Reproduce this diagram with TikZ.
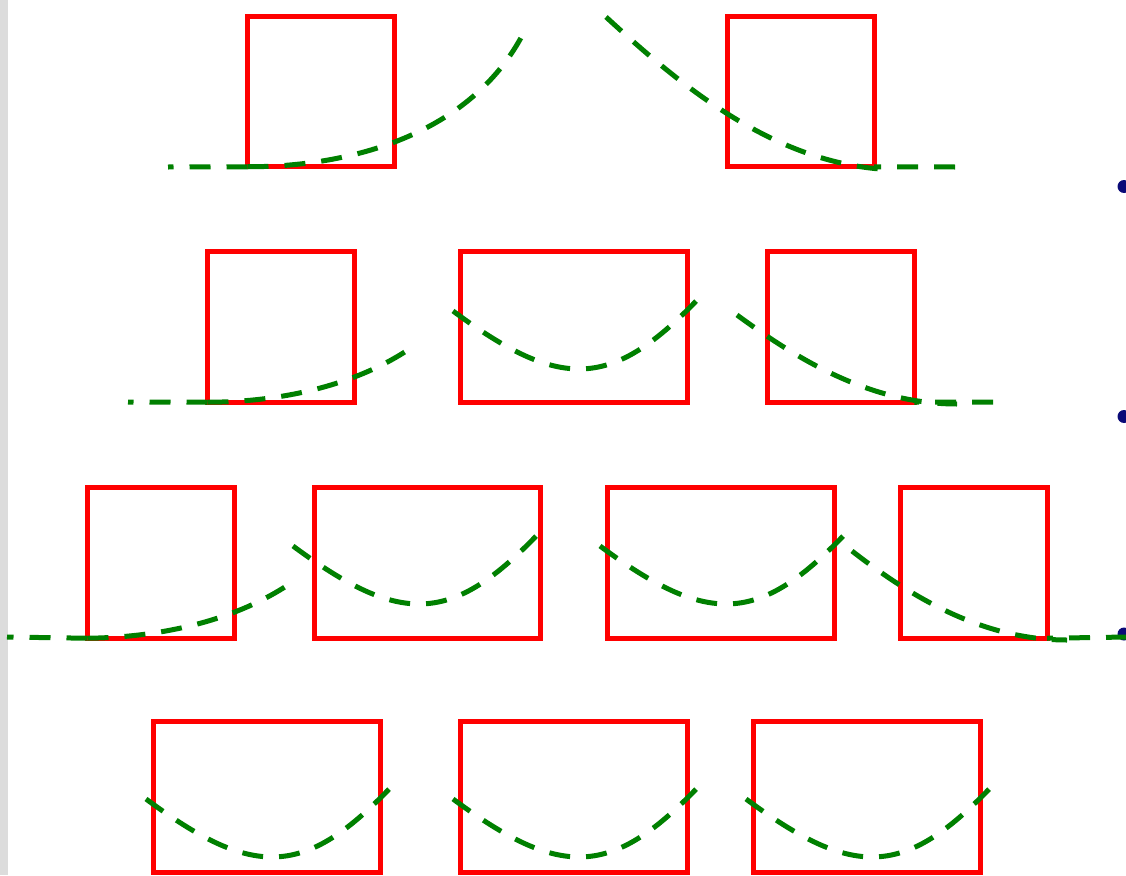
\documentclass[tikz,border=0pt]{standalone}
\usepackage{tikz}
\definecolor{dgreen}{RGB}{0,128,0}
\definecolor{bulletblue}{RGB}{10,10,120}
\definecolor{stripgray}{RGB}{220,220,220}
\tikzset{
  box/.style={draw=red, line width=5pt, rectangle, inner sep=0pt, outer sep=0pt, minimum height=150.5pt},
  smallbox/.style={box, minimum width=146.5pt},
  largebox/.style={box, minimum width=226.5pt},
  curve/.style={draw=dgreen, line width=5pt, dash pattern=on 21pt off 16pt},
  bowl/.pic={\draw[curve] (0,0) .. controls (107,79) and (158,80) .. (247,-14);},
  bulletdot/.style={fill=bulletblue},
}
\begin{document}
\begin{tikzpicture}[x=1pt,y=-1pt]
\useasboundingbox (0,0) rectangle (1126,875);
\fill[white] (0,0) rectangle (1126,875);
\fill[stripgray] (0,0) rectangle (8,875);
% bullets at the right edge
\fill[bulletdot] (1124,186.5) circle[radius=6.5pt];
\fill[bulletdot] (1124,416.5) circle[radius=6.5pt];
\fill[bulletdot] (1124,634) circle[radius=6.5pt];
% row 1
\node[smallbox] (r1a) at (320.75,91.5) {};
\node[smallbox] (r1b) at (800.75,91.5) {};
% row 2
\node[smallbox] (r2a) at (280.75,327) {};
\node[largebox] (r2b) at (574,327) {};
\node[smallbox] (r2c) at (841,327) {};
% row 3
\node[smallbox] (r3a) at (160.75,563) {};
\node[largebox] (r3b) at (427.5,563) {};
\node[largebox] (r3c) at (721,563) {};
\node[smallbox] (r3d) at (973.75,563) {};
% row 4
\node[largebox] (r4a) at (267.2,797) {};
\node[largebox] (r4b) at (574,797) {};
\node[largebox] (r4c) at (867,797) {};
% ---- curves row 1
\coordinate (l1) at (168,167);
\coordinate (l1top) at (523,34);
\draw[curve] (r1a.south west) -- (l1);
\draw[curve] (r1a.south west) .. controls (350,167) and (470,135) .. (l1top);
\coordinate (rr1s) at (606,17);
\coordinate (rr1e) at (880,169);
\coordinate (rr1h) at (955,167);
\draw[curve] (rr1s) .. controls (680,85) and (770,160) .. (rr1e);
\draw[curve] (rr1h) -- (r1b.south east);
% ---- curves row 2
\coordinate (l2) at (128,402);
\draw[curve] (r2a.south west) -- (l2);
\begin{scope}
  \clip (100,240) rectangle (406.5,412);
  \draw[curve] (r2a.south west) .. controls (309.5,402) and (429.5,370) .. (482.5,269);
\end{scope}
\pic at (453,311) {bowl};
\coordinate (rr2s) at (737,315);
\coordinate (rr2e) at (957,404);
\coordinate (rr2h) at (993,402);
\draw[curve] (rr2s) .. controls (797,359) and (870,404) .. (rr2e);
\draw[curve] (rr2h) -- (r2c.south east);
% ---- curves row 3
\coordinate (l3) at (7,637);
\draw[curve] (r3a.south west) -- (l3);
\begin{scope}
  \clip (0,480) rectangle (286.5,648);
  \draw[curve] (r3a.south west) .. controls (189.5,637) and (309.5,605) .. (362.5,504);
\end{scope}
\pic at (293,546) {bowl};
\pic at (600,546) {bowl};
\coordinate (rr3s) at (852,551);
\coordinate (rr3e) at (1067,640);
\coordinate (rr3h) at (1127,637);
\draw[curve] (rr3s) .. controls (915,600) and (985,640) .. (rr3e);
\draw[curve] (rr3h) -- (r3d.south east);
% ---- curves row 4
\pic at (146,799) {bowl};
\pic at (453,799) {bowl};
\pic at (746,799) {bowl};
\end{tikzpicture}
\end{document}
